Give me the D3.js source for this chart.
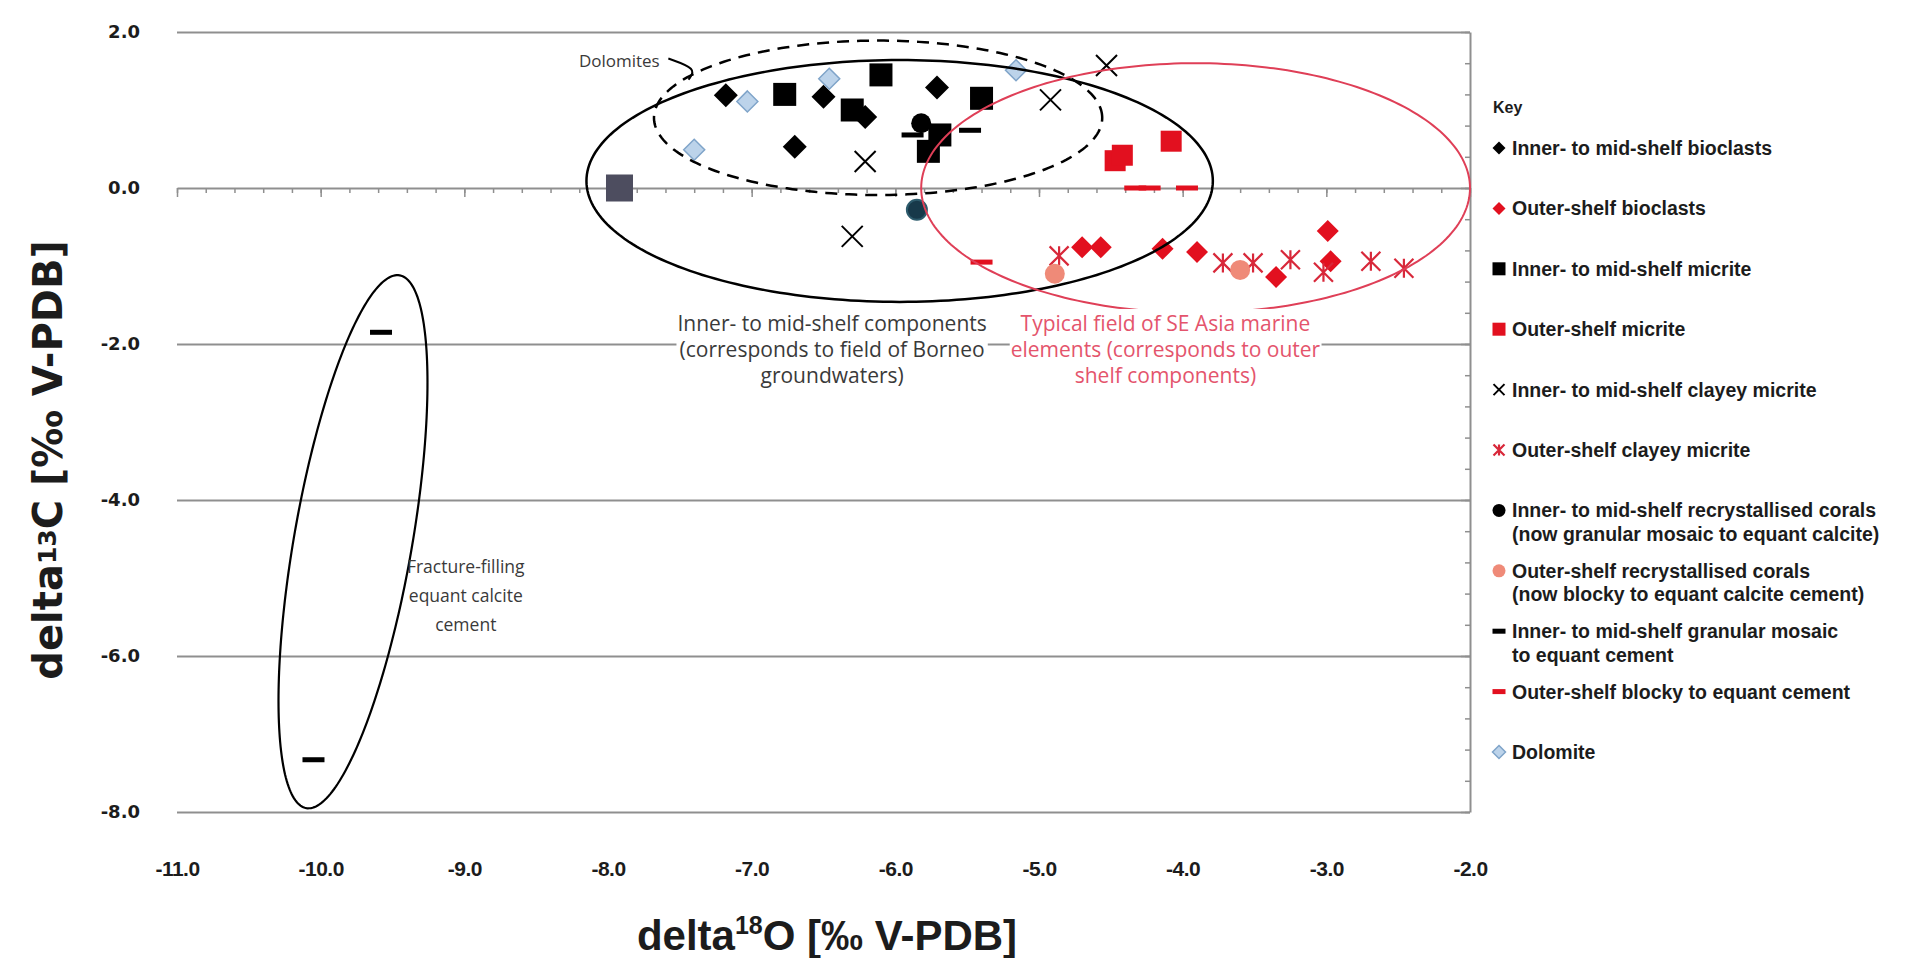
<!DOCTYPE html>
<html lang="en">
  <head>
    <meta charset="UTF-8" />
    <title>delta13C vs delta18O</title>
    <style>
      body { margin: 0; background: #fff; }
    </style>
  </head>
  <body>
    <svg id="svg" width="1908" height="958"></svg>
    <script src="https://d3js.org/d3.v7.min.js"></script>
    <script>
      // ---- data (delta18O, delta13C) ----
      const innerBioclasts = [[-7.18, 1.19], [-6.50, 1.17], [-6.21, 0.91], [-5.71, 1.29], [-6.70, 0.53]];
      const outerBioclasts = [[-4.70, -0.76], [-4.57, -0.76], [-4.14, -0.78], [-3.90, -0.82], [-3.35, -1.14], [-2.99, -0.55], [-2.97, -0.94]];
      const innerMicrite = [[-6.77, 1.20], [-6.10, 1.45], [-6.30, 1.00], [-5.40, 1.15], [-5.69, 0.68], [-5.77, 0.47]];
      const outerMicrite = [[-4.47, 0.35], [-4.42, 0.42], [-4.08, 0.60]];
      const innerClayey = [[-4.53, 1.57], [-4.92, 1.13], [-6.21, 0.34], [-6.30, -0.62]];
      const outerClayey = [[-4.86, -0.87], [-3.72, -0.96], [-3.51, -0.96], [-3.25, -0.92], [-3.02, -1.08], [-2.69, -0.94], [-2.46, -1.03]];
      const innerCorals = [[-5.82, 0.83]];
      const innerCoralsDark = [[-5.85, -0.28]];
      const outerCorals = [[-4.89, -1.10], [-3.60, -1.05]];
      const innerCement = [[-5.88, 0.68], [-5.48, 0.74], [-9.58, -1.85], [-10.05, -7.33]];
      const outerCement = [[-4.33, 0.0], [-4.23, 0.0], [-3.97, 0.0], [-5.40, -0.95]];
      const dolomite = [[-6.46, 1.40], [-7.03, 1.11], [-7.40, 0.49], [-5.16, 1.51]];
      const greySample = [[-7.92, 0.0]];

      const xTicks = [-11, -10, -9, -8, -7, -6, -5, -4, -3, -2];
      const yTicks = [2, 0, -2, -4, -6, -8];

      const legendLabels = [
        ["Inner- to mid-shelf bioclasts"],
        ["Outer-shelf bioclasts"],
        ["Inner- to mid-shelf micrite"],
        ["Outer-shelf micrite"],
        ["Inner- to mid-shelf clayey micrite"],
        ["Outer-shelf clayey micrite"],
        ["Inner- to mid-shelf recrystallised corals", "(now granular mosaic to equant calcite)"],
        ["Outer-shelf recrystallised corals", "(now blocky to equant calcite cement)"],
        ["Inner- to mid-shelf granular mosaic", "to equant cement"],
        ["Outer-shelf blocky to equant cement"],
        ["Dolomite"],
      ];

      // fields drawn as ellipses: centre and two conjugate semi-axes, in data units
      const innerField = { cx: -5.97, cy: 0.09, ax: 2.18, ay: 0, bx: 0, by: 1.55 };
      const dolomiteField = { cx: -6.12, cy: 0.9, ax: 1.56, ay: 0, bx: 0, by: 0.99 };
      const outerField = { cx: -3.91, cy: 0.0, ax: 1.91, ay: 0, bx: 0, by: 1.6 };
      const fractureField = { cx: -9.775, cy: -4.535, ax: 0.325, ay: 3.415, bx: 0.404, by: -0.132 };

      // ---- layout ----
      const svg = d3.select("#svg");
      const x = d3.scaleLinear().domain([-11, -2]).range([177, 1470]);
      const y = d3.scaleLinear().domain([-8, 2]).range([812, 32]);
      const plotW = x(-2) - x(-11);
      const axisGrey = "#8f8f8f";
      const red = "#e2101f";

      // horizontal gridlines
      svg
        .append("g")
        .attr("transform", `translate(${x(-11)},0)`)
        .call(d3.axisLeft(y).tickValues(yTicks.filter((d) => d !== 0)).tickSize(-plotW).tickFormat(""))
        .call((g) => g.select(".domain").remove())
        .selectAll("line")
        .attr("stroke", axisGrey)
        .attr("stroke-width", 2);

      // horizontal axis crossing at 0 (minor + major ticks)
      const xAxisG = svg.append("g").attr("transform", `translate(0,${y(0)})`);
      xAxisG
        .append("g")
        .call(d3.axisBottom(x).tickValues(d3.range(-11, -1.99, 0.2)).tickSize(5).tickSizeOuter(0).tickFormat(""))
        .call((g) => g.select(".domain").attr("stroke", axisGrey).attr("stroke-width", 2))
        .selectAll("line")
        .attr("stroke", axisGrey)
        .attr("stroke-width", 1.5);
      xAxisG
        .append("g")
        .call(d3.axisBottom(x).tickValues(xTicks).tickSize(9).tickFormat(""))
        .call((g) => g.select(".domain").remove())
        .selectAll("line")
        .attr("stroke", axisGrey)
        .attr("stroke-width", 1.5);

      // vertical axis crossing at -2
      const yAxisG = svg.append("g").attr("transform", `translate(${x(-2)},0)`);
      yAxisG
        .append("g")
        .call(d3.axisLeft(y).tickValues(d3.range(-8, 2.01, 0.4)).tickSize(5).tickSizeOuter(0).tickFormat(""))
        .call((g) => g.select(".domain").attr("stroke", axisGrey).attr("stroke-width", 2))
        .selectAll("line")
        .attr("stroke", axisGrey)
        .attr("stroke-width", 1.5);
      yAxisG
        .append("g")
        .call(d3.axisLeft(y).tickValues(yTicks).tickSize(9).tickFormat(""))
        .call((g) => g.select(".domain").remove())
        .selectAll("line")
        .attr("stroke", axisGrey)
        .attr("stroke-width", 1.5);

      // tick labels (hyphen minus, one decimal)
      const fmt = (d) => d.toFixed(1);
      svg
        .append("g")
        .attr("transform", `translate(140,0)`)
        .call(d3.axisLeft(y).tickValues(yTicks).tickSize(0).tickPadding(0).tickFormat(fmt))
        .call((g) => g.select(".domain").remove())
        .selectAll("text")
        .attr("font-family", "DejaVu Sans")
        .attr("font-weight", "bold")
        .attr("font-size", 18)
        .attr("fill", "#1c1c1c");

      svg
        .append("g")
        .attr("transform", `translate(0,861)`)
        .call(d3.axisBottom(x).tickValues(xTicks).tickSize(0).tickPadding(0).tickFormat(fmt))
        .call((g) => g.select(".domain").remove())
        .selectAll("text")
        .attr("font-family", "'Liberation Sans', sans-serif")
        .attr("font-weight", "bold")
        .attr("font-size", 21)
        .attr("letter-spacing", -0.5)
        .attr("fill", "#1c1c1c");

      // axis titles
      const xTitle = svg
        .append("text")
        .attr("x", 827)
        .attr("y", 950)
        .attr("text-anchor", "middle")
        .attr("font-family", "Liberation Sans, sans-serif")
        .attr("font-weight", "bold")
        .attr("font-size", 42)
        .attr("fill", "#1c1c1c");
      xTitle.append("tspan").text("delta");
      xTitle.append("tspan").attr("font-size", 25).attr("dy", -16).text("18");
      xTitle.append("tspan").attr("dy", 16).text("O [‰ V-PDB]");

      const yTitle = svg
        .append("text")
        .attr("transform", "translate(62,460) rotate(-90)")
        .attr("text-anchor", "middle")
        .attr("font-family", "DejaVu Sans, sans-serif")
        .attr("font-weight", "bold")
        .attr("font-size", 40)
        .attr("fill", "#1c1c1c");
      yTitle.append("tspan").text("delta");
      yTitle.append("tspan").attr("font-size", 25).attr("dy", -6).text("13");
      yTitle.append("tspan").attr("dy", 6).text("C [‰ V-PDB]");

      // ---- markers ----
      function marker(g, shape, s, fill, stroke) {
        const h = s / 2;
        if (shape === "diamond") {
          g.append("path").attr("d", `M0,${-h}L${h},0L0,${h}L${-h},0Z`).attr("fill", fill).attr("stroke", stroke || "none").attr("stroke-width", 1.5);
        } else if (shape === "square") {
          g.append("rect").attr("x", -h).attr("y", -h).attr("width", s).attr("height", s).attr("fill", fill);
        } else if (shape === "circle") {
          g.append("circle").attr("r", h).attr("fill", fill).attr("stroke", stroke || "none").attr("stroke-width", 2);
        } else if (shape === "cross") {
          g.append("path").attr("d", `M${-h},${-h}L${h},${h}M${-h},${h}L${h},${-h}`).attr("stroke", fill).attr("stroke-width", 2).attr("fill", "none");
        } else if (shape === "star") {
          g.append("path").attr("d", `M${-h},${-h}L${h},${h}M${-h},${h}L${h},${-h}M0,${-h}L0,${h}`).attr("stroke", fill).attr("stroke-width", 2.2).attr("fill", "none");
        } else if (shape === "dash") {
          g.append("rect").attr("x", -h).attr("y", -2.5).attr("width", s).attr("height", 5).attr("fill", fill);
        }
      }

      const series = [
        { data: innerBioclasts, shape: "diamond", size: 24, fill: "#000" },
        { data: outerBioclasts, shape: "diamond", size: 22, fill: red },
        { data: innerMicrite, shape: "square", size: 23, fill: "#000" },
        { data: outerMicrite, shape: "square", size: 21, fill: red },
        { data: innerClayey, shape: "cross", size: 21, fill: "#000" },
        { data: outerClayey, shape: "star", size: 19, fill: "#d8283a" },
        { data: innerCorals, shape: "circle", size: 20, fill: "#000" },
        { data: outerCorals, shape: "circle", size: 20, fill: "#ef8a78" },
        { data: innerCement, shape: "dash", size: 22, fill: "#000" },
        { data: outerCement, shape: "dash", size: 22, fill: red },
        { data: dolomite, shape: "diamond", size: 21, fill: "#bcd3ea", stroke: "#7fa4c9" },
      ];
      const extras = [
        { data: innerCoralsDark, shape: "circle", size: 20, fill: "#17394a", stroke: "#2d5b6c" },
        { data: greySample, shape: "square", size: 27, fill: "#4d4d5f" },
      ];

      const marks = svg.append("g");
      series.concat(extras).forEach((s) => {
        s.data.forEach((d) => {
          const g = marks.append("g").attr("transform", `translate(${x(d[0])},${y(d[1])})`);
          marker(g, s.shape, s.size, s.fill, s.stroke);
        });
      });

      // ---- field ellipses ----
      function ellipsePath(e) {
        const pts = d3.range(240).map((i) => {
          const t = (i / 240) * 2 * Math.PI;
          return [
            x(e.cx + e.ax * Math.cos(t) + e.bx * Math.sin(t)),
            y(e.cy + e.ay * Math.cos(t) + e.by * Math.sin(t)),
          ];
        });
        return d3.line().curve(d3.curveLinearClosed)(pts);
      }
      const fields = svg.append("g").attr("fill", "none");
      fields.append("path").attr("d", ellipsePath(innerField)).attr("stroke", "#000").attr("stroke-width", 2.5);
      fields.append("path").attr("d", ellipsePath(dolomiteField)).attr("stroke", "#000").attr("stroke-width", 2.5).attr("stroke-dasharray", "12,8");
      fields.append("path").attr("d", ellipsePath(outerField)).attr("stroke", "#df3f57").attr("stroke-width", 2);
      fields.append("path").attr("d", ellipsePath(fractureField)).attr("stroke", "#000").attr("stroke-width", 2.2);

      // ---- annotations ----
      const notes = svg.append("g").attr("font-family", "Open Sans, sans-serif");
      function note(lines, cx, cy, color, fontSize, lineH, boxed) {
        const t = notes
          .append("text")
          .attr("text-anchor", "middle")
          .attr("fill", color)
          .attr("font-size", fontSize);
        lines.forEach((l, i) => {
          t.append("tspan").attr("x", x(cx)).attr("y", y(cy) + i * lineH).attr("dominant-baseline", "central").text(l);
        });
        if (boxed) {
          const b = t.node().getBBox();
          notes.insert("rect", () => t.node()).attr("x", b.x - 1).attr("y", b.y).attr("width", b.width + 2).attr("height", b.height).attr("fill", "#fff");
        }
      }
      note(["Inner- to mid-shelf components", "(corresponds to field of Borneo", "groundwaters)"], -6.44, -1.73, "#3a3a3a", 21, 26, true);
      note(["Typical field of SE Asia marine", "elements (corresponds to outer", "shelf components)"], -4.12, -1.73, "#e4546c", 21, 26, true);
      note(["Fracture-filling", "equant calcite", "cement"], -8.99, -4.85, "#3a3a3a", 17.5, 29, false);

      // Dolomites label with leader
      notes
        .append("text")
        .attr("x", x(-7.64))
        .attr("y", y(1.63))
        .attr("dominant-baseline", "central")
        .attr("text-anchor", "end")
        .attr("font-size", 17)
        .attr("fill", "#3a3a3a")
        .text("Dolomites");
      const leader = [[-7.58, 1.66], [-7.38, 1.53], [-7.44, 1.39]];
      svg
        .append("path")
        .attr("d", d3.line().curve(d3.curveBasis).x((d) => x(d[0])).y((d) => y(d[1]))(leader))
        .attr("fill", "none")
        .attr("stroke", "#000")
        .attr("stroke-width", 2);

      // ---- legend ----
      const legend = svg.append("g").attr("font-family", "Liberation Sans, sans-serif").attr("font-weight", "bold");
      legend.append("text").attr("x", 1493).attr("y", 107).attr("dominant-baseline", "central").attr("font-size", 16).attr("fill", "#1c1c1c").text("Key");
      legendLabels.forEach((lines, i) => {
        const ry = 148 + i * 60.4;
        const s = series[i];
        const g = legend.append("g").attr("transform", `translate(1499,${ry})`);
        const legendSize = s.shape === "dash" ? 13 : s.shape === "cross" || s.shape === "star" ? 11 : 13;
        marker(g, s.shape, legendSize, s.fill, s.stroke);
        const t = legend.append("text").attr("font-size", 19.5).attr("fill", "#1c1c1c");
        lines.forEach((l, j) => {
          t.append("tspan").attr("x", 1512).attr("y", ry + j * 23.5).attr("dominant-baseline", "central").text(l);
        });
      });
    </script>
  </body>
</html>
